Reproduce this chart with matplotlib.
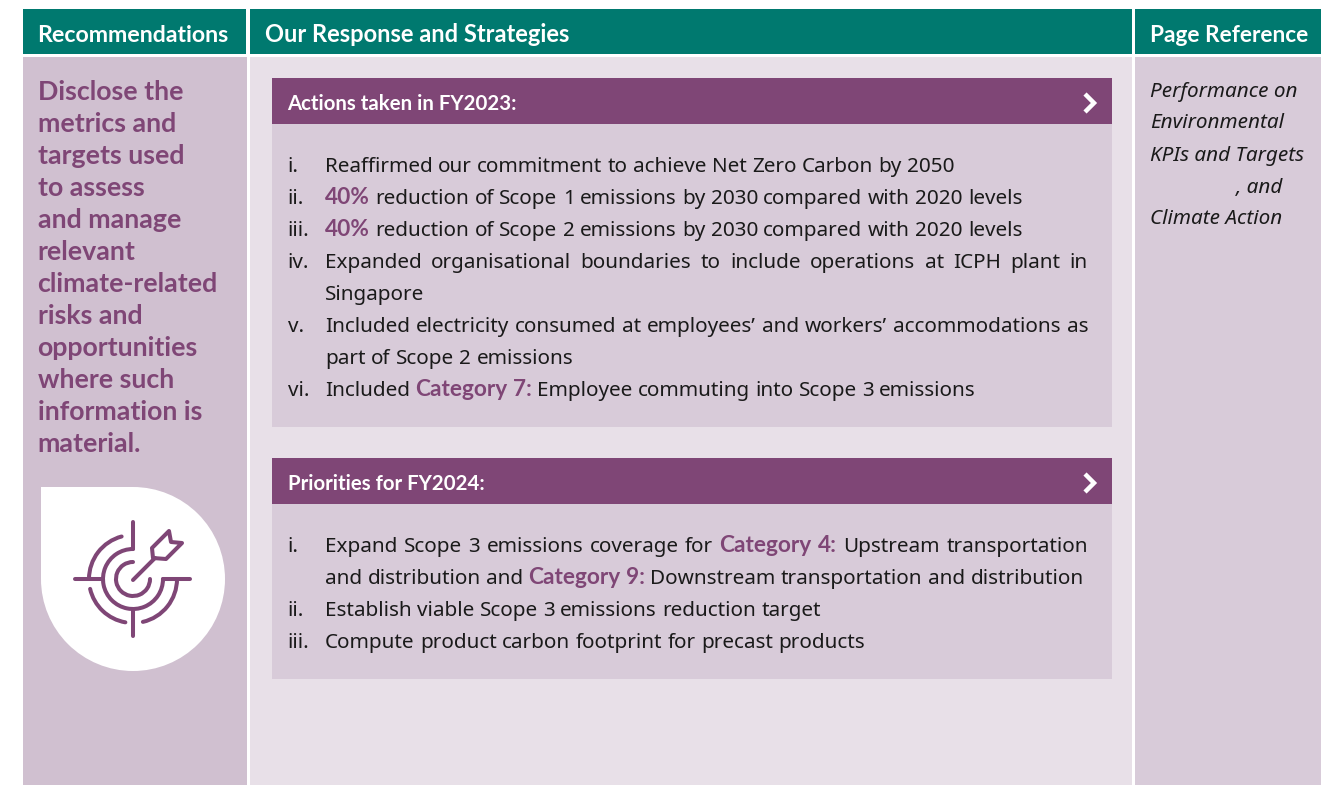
#!/usr/bin/env python

import matplotlib
matplotlib.use('Agg')
import matplotlib.pyplot as plt
from matplotlib.patches import Rectangle, Circle, Arc, Polygon

FONT = 'Noto Sans'
BOLD_FONT = 'Lato'
TEAL = '#00796f'
PURPLE = '#7f4676'
LEFT_BG = '#d0c0d0'
PALE = '#d8cbd9'
MID_BG = '#e8e0e8'
INK = '#1a1a1a'
BODY = 14.9
BODY_BOLD = 16.3

# Table text
headers = ['Recommendations', 'Our Response and Strategies', 'Page Reference']
recommendation = ['Disclose the', 'metrics and', 'targets used', 'to assess', 'and manage',
                  'relevant', 'climate-related', 'risks and', 'opportunities', 'where such',
                  'information is', 'material.']
page_reference = ['Performance on', 'Environmental', 'KPIs and Targets', '                , and', 'Climate Action']
box_titles = ['Actions taken in FY2023:', 'Priorities for FY2024:']

# (numeral, [(text, bold)...], justified)
actions = [
    ('i.', [('Reaffirmed our commitment to achieve Net Zero Carbon by 2050', False)], False),
    ('ii.', [('40%', True), ('reduction of Scope 1 emissions by 2030 compared with 2020 levels', False)], False),
    ('iii.', [('40%', True), ('reduction of Scope 2 emissions by 2030 compared with 2020 levels', False)], False),
    ('iv.', [('Expanded organisational boundaries to include operations at ICPH plant in', False)], True),
    ('', [('Singapore', False)], False),
    ('v.', [('Included electricity consumed at employees\u2019 and workers\u2019 accommodations as', False)], True),
    ('', [('part of Scope 2 emissions', False)], False),
    ('vi.', [('Included', False), ('Category 7:', True), ('Employee commuting into Scope 3 emissions', False)], False),
]
priorities = [
    ('i.', [('Expand Scope 3 emissions coverage for', False), ('Category 4:', True),
            ('Upstream transportation', False)], True),
    ('', [('and distribution and', False), ('Category 9:', True),
          ('Downstream transportation and distribution', False)], False),
    ('ii.', [('Establish viable Scope 3 emissions reduction target', False)], False),
    ('iii.', [('Compute product carbon footprint for precast products', False)], False),
]

fig = plt.figure(figsize=(13.4, 7.95), dpi=100, facecolor='white')
ax = fig.add_axes([0, 0, 1, 1])
ax.set_xlim(0, 1340)
ax.set_ylim(795, 0)
ax.axis('off')
renderer = fig.canvas.get_renderer()


def rect(x0, y0, x1, y1, color):
    ax.add_patch(Rectangle((x0, y0), x1 - x0, y1 - y0, fc=color, ec='none'))


def put(x, y, s, size=BODY, bold=False, color=INK, italic=False):
    return ax.text(x, y, s, family=BOLD_FONT if bold else FONT, fontsize=size, color=color,
                   fontweight='bold' if bold else 'normal',
                   fontstyle='italic' if italic else 'normal', va='baseline', ha='left')


def ink(s, size, bold):
    t = put(0, 0, s, size, bold)
    w = t.get_window_extent(renderer).width
    t.remove()
    return w


def width(s, size, bold):
    # advance width, side bearings included
    return ink('n' + s + 'n', size, bold) - ink('nn', size, bold)


def text_line(x, y, runs, right=None):
    # place word by word, so justified lines can stretch the gaps
    words = [(w, b) for s, b in runs for w in s.split(' ')]
    sizes = [width(w, BODY_BOLD if b else BODY, b) for w, b in words]
    gap = ink('n n', BODY, False) - ink('nn', BODY, False)
    if right is not None:
        gap = (right - x - sum(sizes)) / (len(words) - 1)
    for (w, b), ww in zip(words, sizes):
        put(x, y, w, BODY_BOLD if b else BODY, b, PURPLE if b else INK)
        x += ww + gap


def chevron(x, y):
    ax.plot([x - 5, x + 4, x - 5], [y - 9, y, y + 9], color='white', lw=3.2,
            solid_joinstyle='miter', solid_capstyle='butt')


def box(y0, y1, title, lines, y_first):
    rect(272, y0, 1112, y1, PALE)
    rect(272, y0, 1112, y0 + 46, PURPLE)
    put(287.5, y0 + 32, title, 14.7, True, 'white')
    chevron(1090, y0 + 25)
    for i, (num, runs, justified) in enumerate(lines):
        y = y_first + i * 32
        if num:
            put(287.5, y, num)
        text_line(325, y, runs, 1088 if justified else None)


# Column backgrounds and header band
rect(23, 9, 246, 54, TEAL)
rect(250, 9, 1132, 54, TEAL)
rect(1135, 9, 1321, 54, TEAL)
rect(23, 57, 247, 785, LEFT_BG)
rect(250, 57, 1132, 785, MID_BG)
rect(1135, 57, 1321, 785, PALE)

for x, s, size in zip([37.5, 265, 1150], headers, [16.7, 17.0, 16.3]):
    put(x, 41.5, s, size, True, 'white')

for i, s in enumerate(recommendation):
    put(37.5, 99.7 + i * 32, s, 19.3, True, PURPLE)

for i, s in enumerate(page_reference):
    put(1150, 96.5 + i * 32, s, BODY, False, INK, True)

box(78, 427, box_titles[0], actions, 172)
box(458, 679, box_titles[1], priorities, 552)

# Teardrop behind the target icon
ax.add_patch(Rectangle((41, 487), 92, 92, fc='white', ec='none'))
ax.add_patch(Circle((133, 579), 92, fc='white', ec='none'))

# Target icon
cx, cy = 133, 579
icon = dict(color=PURPLE, lw=2.9, solid_capstyle='round', solid_joinstyle='round')
arc_style = dict(ec=PURPLE, lw=2.9, fc='none', capstyle='round')
# y axis is inverted, Arc angles run clockwise on screen
ax.add_patch(Arc((cx, cy), 88, 88, theta1=180, theta2=255, **arc_style))
ax.add_patch(Arc((cx, cy), 88, 88, theta1=100, theta2=167, **arc_style))
ax.add_patch(Arc((cx, cy), 88, 88, theta1=0, theta2=77, **arc_style))
ax.add_patch(Arc((cx, cy), 60, 60, theta1=0, theta2=270, **arc_style))
ax.add_patch(Arc((cx, cy), 34, 34, theta1=0, theta2=270, **arc_style))
ax.plot([cx, cx], [522, 549], **icon)
ax.plot([cx, cx], [610, 636], **icon)
ax.plot([75, 101], [cy, cy], **icon)
ax.plot([163, 190], [cy, cy], **icon)
ax.plot([133, 155], [580, 558], **icon)
ax.add_patch(Polygon([(152, 548), (169, 531), (171, 542), (182, 543), (166, 559), (153, 558)],
                     closed=True, fc='none', ec=PURPLE, lw=2.9, joinstyle='round'))

fig.savefig('out.png', dpi=100)
